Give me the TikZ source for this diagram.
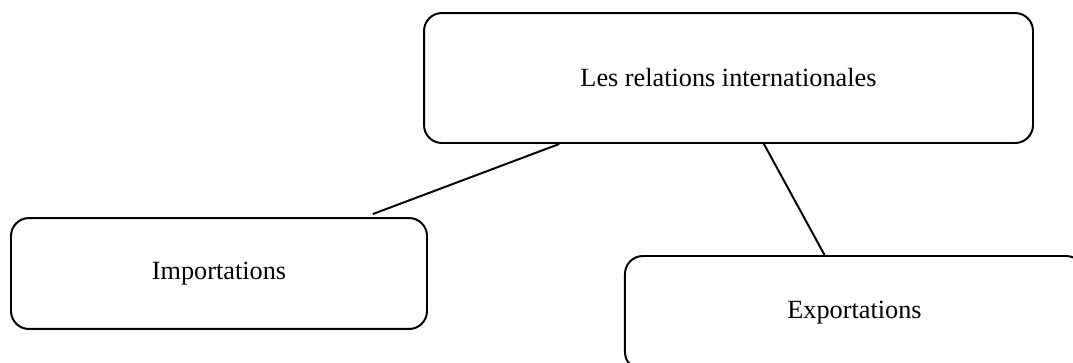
\documentclass[tikz,border=0pt]{standalone}
\usepackage{fontspec}
\setmainfont{Liberation Serif}
\usetikzlibrary{calc}

\begin{document}
\begin{tikzpicture}[x=.457pt,y=-.457pt,
 box/.style={draw,rounded corners=8.2pt,line width=.9pt,inner sep=0pt,font=\fontsize{12}{14}\selectfont},
 link/.style={line width=.9pt}]
 \useasboundingbox(0,0)rectangle(1073,362);
 \clip(0,0)rectangle(1073,362);
 \node[box,minimum width=278.3pt,minimum height=59.4pt](rel)at(728.5,78){Les relations internationales};
 \node[box,minimum width=190.1pt,minimum height=50.7pt](imp)at(219,273.5){Importations};
 \node[box,minimum width=209.8pt,minimum height=52.1pt](exp)at(854.5,313){Exportations};
 \draw[link]($(rel.south west)!.223!(rel.south east)$)--($(imp.north west)!.868!(imp.north east)+(0,-3)$);
 \draw[link]($(rel.south west)!.558!(rel.south east)$)--($(exp.north west)!.435!(exp.north east)$);
\end{tikzpicture}
\end{document}
